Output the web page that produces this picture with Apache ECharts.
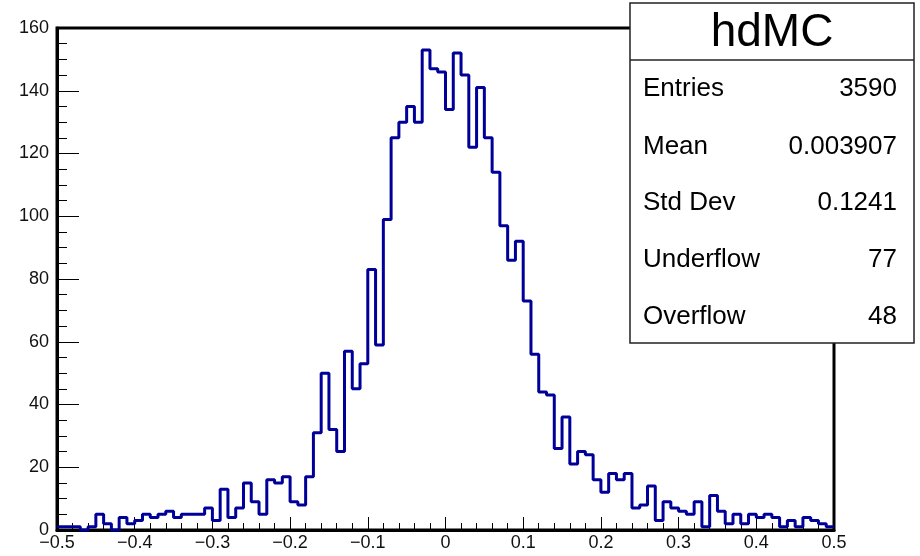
<!DOCTYPE html>
<html>
<head>
<meta charset="utf-8">
<script src="https://cdn.jsdelivr.net/npm/echarts@6/dist/echarts.min.js"></script>
<style>
html,body{margin:0;padding:0;background:#fff;}
#chart{width:920px;height:556px;}
</style>
</head>
<body>
<div id="chart"></div>
<script>
// Histogram hdMC: 100 bins from -0.5 to 0.5
const xMin = -0.5;
const xMax = 0.5;
const binWidth = 0.01;
const counts = [
  1, 1, 1, 0, 1, 5, 2, 0, 4, 2,
  3, 5, 4, 5, 6, 4, 5, 5, 5, 7,
  3, 13, 4, 7, 15, 9, 5, 16, 15, 17,
  9, 8, 17, 31, 50, 32, 25, 57, 45, 53,
  83, 59, 99, 125, 130, 135, 130, 153, 147, 146,
  134, 152, 145, 122, 141, 125, 114, 97, 86, 92,
  73, 56, 44, 43, 26, 36, 21, 25, 24, 16,
  12, 18, 16, 18, 7, 8, 14, 3, 9, 7,
  6, 5, 9, 1, 11, 6, 2, 5, 2, 5,
  4, 5, 4, 1, 3, 1, 4, 3, 2, 1
];
const yTicks = [0, 20, 40, 60, 80, 100, 120, 140, 160];
const xTickLabels = ['\u22120.5','\u22120.4','\u22120.3','\u22120.2','\u22120.1','0','0.1','0.2','0.3','0.4','0.5'];
const statsTitle = 'hdMC';
const statsLabels = ['Entries', 'Mean', 'Std Dev', 'Underflow', 'Overflow'];
const statsValues = ['3590', '0.003907', '0.1241', '77', '48'];

const stepData = counts.map((v, i) => [+(xMin + i * binWidth).toFixed(2), v]);
stepData.push([xMax, counts[counts.length - 1]]);

const FONT = '"Liberation Sans", Arial, Helvetica, sans-serif';

const chart = echarts.init(document.getElementById('chart'), null, {renderer: 'canvas'});

// stats box geometry
const box = {x: 630, y: 3, w: 284, h: 340, titleH: 57};
const rowY = [89, 147, 203, 260, 317];

const graphics = [
  {type: 'rect', z: 100, shape: {x: box.x, y: box.y, width: box.w, height: box.h},
   style: {fill: '#fff', stroke: '#222', lineWidth: 1.5}},
  {type: 'line', z: 101, shape: {x1: box.x, y1: box.y + box.titleH, x2: box.x + box.w, y2: box.y + box.titleH},
   style: {stroke: '#222', lineWidth: 1.5}},
  {type: 'text', z: 102, x: box.x + box.w / 2, y: 33,
   style: {text: statsTitle, font: '46px ' + FONT, fill: '#000', textAlign: 'center', textVerticalAlign: 'middle'}}
];
statsLabels.forEach((lab, i) => {
  graphics.push({type: 'text', z: 102, x: 643, y: rowY[i],
    style: {text: lab, font: '26px ' + FONT, fill: '#000', textAlign: 'left', textVerticalAlign: 'middle'}});
  graphics.push({type: 'text', z: 102, x: 897, y: rowY[i],
    style: {text: statsValues[i], font: '26px ' + FONT, fill: '#000', textAlign: 'right', textVerticalAlign: 'middle'}});
});

chart.setOption({
  animation: false,
  backgroundColor: '#fff',
  grid: {left: 57, right: 86, top: 28, bottom: 26, show: true, borderColor: '#000', borderWidth: 3, backgroundColor: 'transparent'},
  xAxis: {
    type: 'value', min: xMin, max: xMax, interval: 0.1,
    axisLine: {show: true, onZero: false, lineStyle: {color: '#000', width: 3}},
    axisTick: {show: true, inside: true, length: 13, lineStyle: {color: '#000', width: 1}},
    minorTick: {show: true, splitNumber: 5, length: 7, lineStyle: {color: '#000', width: 1}},
    splitLine: {show: false},
    axisLabel: {
      margin: 4, fontSize: 18, fontFamily: FONT, color: '#111',
      formatter: function (v) {
        const idx = Math.round((v - xMin) / 0.1);
        return xTickLabels[idx] !== undefined ? xTickLabels[idx] : '';
      }
    }
  },
  yAxis: {
    type: 'value', min: yTicks[0], max: yTicks[yTicks.length - 1], interval: 20,
    axisLine: {show: true, onZero: false, lineStyle: {color: '#000', width: 3}},
    axisTick: {show: true, inside: true, length: 22, lineStyle: {color: '#000', width: 1}},
    minorTick: {show: true, splitNumber: 4, length: 10, lineStyle: {color: '#000', width: 1}},
    splitLine: {show: false},
    axisLabel: {margin: 8, fontSize: 18, fontFamily: FONT, color: '#111'}
  },
  series: [{
    type: 'line',
    step: 'end',
    data: stepData,
    showSymbol: false,
    symbol: 'none',
    clip: false,
    lineStyle: {color: '#000099', width: 3},
    z: 5
  }],
  graphic: graphics
});
</script>
</body>
</html>
